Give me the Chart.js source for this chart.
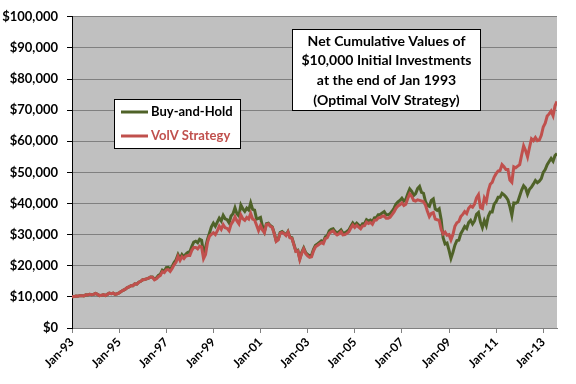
<!DOCTYPE html>
<html><head><meta charset="utf-8">
<script src="https://cdn.jsdelivr.net/npm/chart.js@4"></script>
<style>html,body{margin:0;padding:0;background:#fff}</style>
</head><body>
<canvas id="c" width="576" height="384"></canvas>
<script>
const xTickLabels = ["Jan-93","Jan-95","Jan-97","Jan-99","Jan-01","Jan-03","Jan-05","Jan-07","Jan-09","Jan-11","Jan-13"];
const seriesNames = ["Buy-and-Hold", "VolV Strategy"];
const titleLines = ["Net Cumulative Values of", "$10,000 Initial Investments", "at the end of Jan 1993", "(Optimal VolV Strategy)"];
// monthly values, Jan 1993 .. Aug 2013
const buyHold = [
10000,10100,10300,10200,10400,10400,10300,10700,10600,10800,10700,10800,
11100,10800,10400,10500,10700,10400,10800,11200,11000,11200,10800,11000,
11300,11700,12100,12400,12900,13200,13600,13600,14200,14100,14700,15000,
15500,15600,15800,16000,16400,16400,15700,16100,16900,17300,18600,18200,
19400,19500,18700,19800,21000,21900,23600,22300,23600,22800,23800,24300,
24500,26200,27600,27900,27400,28500,28200,24000,25800,28500,30500,32500,
33700,32700,34000,35300,34400,36200,35100,34800,33800,36000,36700,38600,
36700,36000,39500,38300,37500,38500,37900,40200,38100,37900,35000,35200,
35500,32700,31000,33500,33700,32900,32500,30500,28000,28500,30700,31000,
30500,29900,31000,29200,29000,26900,24800,25000,22300,24300,25700,24200,
23600,23200,23400,25300,26600,27000,27500,28000,27700,29300,29600,31200,
31700,31900,31000,30500,30900,31500,30500,30600,31000,31500,32700,33800,
33000,33700,33100,32500,33500,33600,34800,34400,34700,34100,35400,35500,
36400,36500,37000,37400,36400,36400,36700,37500,38500,39800,40500,41000,
41700,40800,41300,43100,44700,43900,42600,43200,44800,45500,43600,43300,
40700,39400,39100,41000,41500,38200,37800,38300,34900,29000,27000,27300,
25000,22400,24300,26600,28100,28200,30300,31400,32600,32000,33900,34600,
33400,34400,36500,37100,34100,32300,34500,32900,35900,37300,37300,39800,
40600,42000,42000,43300,42800,42100,41200,39000,36200,40200,40100,40500,
42400,44300,45700,45000,43000,44600,45300,46300,47400,46700,47200,48000,
50000,50900,52500,53500,54500,53600,55400,56100];
const volv = [
10000,10100,10300,10200,10400,10400,10300,10700,10600,10800,10700,10800,
11100,10800,10400,10500,10700,10400,10800,11200,11000,11200,10800,11000,
11300,11700,12100,12400,12900,13200,13600,13600,14200,14100,14700,15000,
15500,15600,15800,16000,16400,16300,15500,15800,16500,16900,18100,17800,
18700,18800,18200,19100,20300,21200,23000,21700,22900,22300,23100,23300,
23300,24900,25900,25900,25400,26300,26000,22300,23600,27500,29500,30100,
30600,30000,31200,32700,31700,33200,32200,32000,31200,33300,34300,35700,
34400,33500,36300,35100,34600,35500,35000,36800,35000,34700,33000,31300,
32900,31500,30600,33200,33400,32700,32300,30300,27800,28300,30400,30700,
30300,29700,30800,29000,28800,26700,24600,24800,22000,24000,25400,23900,
23200,22700,22900,24800,26100,26500,27000,27400,27100,28700,29000,30400,
30900,31200,30400,29900,30300,30900,29900,30000,30400,30900,32100,33100,
32300,33000,32400,31900,32800,32900,34000,33600,33900,33300,34600,34700,
35400,35500,35900,36000,35300,35300,35600,36400,37300,38500,39200,39600,
40200,39400,39800,41600,43100,42300,41000,40800,41200,41000,40800,40600,
39500,37500,35800,36800,37100,35000,34800,34600,31700,30200,30800,29800,
30000,28300,30000,32700,33800,34200,35800,36500,37400,36800,38500,39200,
38800,39800,41800,42800,38700,38400,41800,40600,44100,46200,46800,48500,
49600,50400,50600,52500,51800,50900,50900,47500,46800,51800,51500,52000,
52500,55600,58500,57000,55000,58000,60800,60200,61200,60200,60400,61900,
64600,65800,68100,68800,69700,68200,71400,72800];

const GREEN = '#4F6228', RED = '#C0504D';
const FONT = 'Lato, "Liberation Sans", sans-serif';
const toPts = arr => arr.map((v, i) => ({x: i, y: v}));

const bgPlugin = {
  id: 'bg',
  beforeDraw(chart) {
    const {ctx, chartArea: a} = chart;
    ctx.save();
    ctx.fillStyle = '#fff';
    ctx.fillRect(0, 0, chart.width, chart.height);
    ctx.fillStyle = '#C0C0C0';
    ctx.fillRect(a.left, a.top, a.right - a.left, a.bottom - a.top);
    ctx.restore();
  }
};

const boxPlugin = {
  id: 'boxes',
  afterDraw(chart) {
    const ctx = chart.ctx;
    ctx.save();
    // legend
    ctx.fillStyle = '#fff';
    ctx.fillRect(114.5, 99.5, 126, 49);
    ctx.strokeStyle = '#000'; ctx.lineWidth = 1;
    ctx.strokeRect(114.5, 99.5, 126, 49);
    ctx.font = 'bold 13px ' + FONT;
    ctx.textBaseline = 'middle'; ctx.textAlign = 'left';
    chart.data.datasets.forEach((ds, i) => {
      const y = 112 + i * 24;
      ctx.strokeStyle = ds.borderColor; ctx.lineWidth = 3;
      ctx.beginPath(); ctx.moveTo(121, y); ctx.lineTo(148, y); ctx.stroke();
      ctx.fillStyle = i === 0 ? '#000' : RED;
      ctx.fillText(ds.label, 151, y);
    });
    // title box
    ctx.fillStyle = '#fff';
    ctx.fillRect(292.5, 29.5, 188, 81);
    ctx.strokeStyle = '#000'; ctx.lineWidth = 1;
    ctx.strokeRect(292.5, 29.5, 188, 81);
    ctx.fillStyle = '#000';
    ctx.font = 'bold 14px ' + FONT;
    ctx.textAlign = 'center';
    titleLines.forEach((t, i) => ctx.fillText(t, 386.5, 41 + i * 19.7));
    ctx.restore();
  }
};

new Chart(document.getElementById('c'), {
  type: 'line',
  data: {
    datasets: [
      {label: seriesNames[0], data: toPts(buyHold), borderColor: GREEN, backgroundColor: GREEN, borderWidth: 3, pointRadius: 0, tension: 0, order: 1},
      {label: seriesNames[1], data: toPts(volv), borderColor: RED, backgroundColor: RED, borderWidth: 3, pointRadius: 0, tension: 0, order: 0}
    ]
  },
  options: {
    responsive: false,
    animation: false,
    devicePixelRatio: 1,
    layout: {padding: {top: 8, right: 19, left: 0, bottom: 0}},
    plugins: {legend: {display: false}, tooltip: {enabled: false}},
    scales: {
      x: {
        type: 'linear', min: 0, max: 247,
        afterBuildTicks: s => { s.ticks = xTickLabels.map((_, i) => ({value: i * 24})); },
        afterFit: s => { s.height = 56; },
        ticks: {
          callback: v => xTickLabels[Math.round(v / 24)],
          minRotation: 45, maxRotation: 45, autoSkip: false,
          color: '#000', font: {family: FONT, size: 12, weight: 'bold'}, padding: 2
        },
        grid: {color: 'rgba(0,0,0,0)', tickColor: '#808080', tickLength: 5, drawOnChartArea: false},
        border: {color: '#808080', width: 1}
      },
      y: {
        min: 0, max: 100000,
        afterFit: s => { s.width = 72; },
        ticks: {
          stepSize: 10000,
          callback: v => '$' + v.toLocaleString('en-US'),
          color: '#000', font: {family: FONT, size: 13, weight: 'bold'}, padding: 9
        },
        grid: {color: '#808080', tickColor: '#000', tickLength: 5},
        border: {color: '#000', width: 1}
      }
    }
  },
  plugins: [bgPlugin, boxPlugin]
});
</script>
</body></html>
